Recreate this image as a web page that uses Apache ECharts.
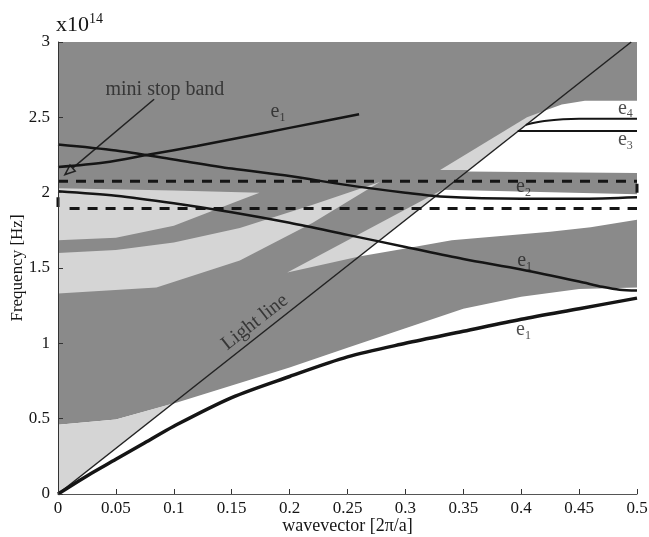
<!DOCTYPE html>
<html>
<head>
<meta charset="UTF-8">
<title>Band diagram</title>
<script src="https://cdn.jsdelivr.net/npm/echarts@6/dist/echarts.min.js"></script>
<style>
  html, body { margin: 0; padding: 0; background: #fff; }
  #chart { width: 649px; height: 537px; }
</style>
</head>
<body>
<div id="chart"></div>
<script>
    // axis ticks
    const xTicks = [0, 0.05, 0.1, 0.15, 0.2, 0.25, 0.3, 0.35, 0.4, 0.45, 0.5];
    const yTicks = [0, 0.5, 1, 1.5, 2, 2.5, 3];

    // bands (x: wavevector, y: frequency / 1e14)
    const lightLine = [[0, 0], [0.495, 3.0]];
    const bandLow = [[0, 0], [0.025, 0.12], [0.05, 0.23], [0.075, 0.34], [0.1, 0.45], [0.15, 0.64], [0.2, 0.78],
        [0.25, 0.91], [0.3, 1.0], [0.35, 1.08], [0.4, 1.16], [0.45, 1.23], [0.5, 1.30]];
    const bandMid = [[0, 2.01], [0.05, 1.98], [0.1, 1.93], [0.15, 1.87], [0.2, 1.80], [0.25, 1.72], [0.3, 1.64],
        [0.35, 1.56], [0.4, 1.49], [0.45, 1.41], [0.47, 1.375], [0.485, 1.355], [0.5, 1.35]];
    const bandE2 = [[0, 2.32], [0.05, 2.28], [0.1, 2.22], [0.15, 2.16], [0.2, 2.11], [0.25, 2.05], [0.3, 2.0],
        [0.33, 1.975], [0.4, 1.96], [0.45, 1.96], [0.5, 1.97]];
    const bandRise = [[0, 2.17], [0.04, 2.2], [0.08, 2.255], [0.12, 2.31], [0.16, 2.37], [0.2, 2.43], [0.26, 2.52]];
    const bandE3 = [[0.397, 2.41], [0.5, 2.41]];
    const bandE4 = [[0.404, 2.45], [0.42, 2.475], [0.45, 2.49], [0.5, 2.49]];
    const dashTop = [[0, 2.075], [0.5, 2.075]];
    const dashBot = [[0.01, 1.895], [0.5, 1.895]];
    const edgeLeft = [[0, 1.905], [0, 1.97]];
    const edgeRight = [[0.5, 2.0], [0.5, 2.06]];

    // shaded regions
    const plotArea = [[0, 0], [0.5, 0], [0.5, 3], [0, 3]];
    const coneEdge = [[0, 0.46], [0.05, 0.495], [0.1, 0.6], [0.15, 0.72], [0.2, 0.84], [0.25, 0.97], [0.3, 1.1],
        [0.35, 1.23], [0.4, 1.31], [0.45, 1.36], [0.5, 1.37]];
    const belowCone = coneEdge.concat([[0.5, 0], [0, 0]]);
    const lightTri = [[0, 0], [0, 0.46], [0.05, 0.495], [0.099, 0.6]];
    const stripeA = [[0, 2.03], [0.1, 2.015], [0.174, 2.0], [0.157, 1.95], [0.1, 1.78], [0.05, 1.70], [0, 1.685]];
    const stripeC = [[0, 1.6], [0.05, 1.62], [0.1, 1.67], [0.157, 1.765], [0.22, 1.92], [0.278, 2.07],
        [0.22, 1.8], [0.157, 1.55], [0.085, 1.37], [0, 1.33]];
    const stripeD = [[0.198, 1.47], [0.26, 1.576], [0.336, 2.036]];
    const sliver = [[0.33, 2.15], [0.405, 2.50], [0.419, 2.54], [0.355, 2.15]];
    const gapTop = [[0.353, 2.14], [0.5, 2.13], [0.5, 2.61], [0.455, 2.61], [0.435, 2.585], [0.419, 2.54]];
    const gapMid = [[0.333, 2.02], [0.5, 1.99], [0.5, 1.82], [0.46, 1.77], [0.425, 1.74], [0.38, 1.71],
        [0.34, 1.685], [0.3, 1.63], [0.26, 1.576]];

    // labels
    const eLabels = [
        { pos: [0.19, 2.535], sub: '1' },
        { pos: [0.49, 2.56], sub: '4' },
        { pos: [0.49, 2.35], sub: '3' },
        { pos: [0.402, 2.04], sub: '2' },
        { pos: [0.403, 1.55], sub: '1' },
        { pos: [0.402, 1.09], sub: '1' }
    ];
    const arrowFrom = [0.083, 2.62];
    const arrowTo = [0.006, 2.12];

    const DARK = '#8a8a8a';
    const LIGHT = '#d5d5d5';
    const INK = '#151515';
    const SERIF = 'Liberation Serif, Times New Roman, serif';

    function poly(points, color) {
        return {
            type: 'custom',
            silent: true,
            data: [[0, 0]],
            renderItem: function (params, api) {
                return {
                    type: 'polygon',
                    shape: { points: points.map(p => api.coord(p)) },
                    style: { fill: color, stroke: null }
                };
            }
        };
    }

    function curve(data, width, extra) {
        return Object.assign({
            type: 'line',
            data: data,
            showSymbol: false,
            silent: true,
            smooth: 0.3,
            lineStyle: { color: INK, width: width }
        }, extra || {});
    }

    const chart = echarts.init(document.getElementById('chart'));
    chart.setOption({
        animation: false,
        grid: { left: 58, right: 12, top: 42, bottom: 43, containLabel: false, outerBoundsMode: 'none' },
        xAxis: {
            type: 'value', min: xTicks[0], max: xTicks[xTicks.length - 1], interval: 0.05, z: 10,
            name: 'wavevector [2π/a]', nameLocation: 'middle', nameGap: 23, nameMoveOverlap: false,
            nameTextStyle: { fontFamily: SERIF, fontSize: 18, color: INK },
            axisLine: { lineStyle: { color: '#555', width: 1 } },
            axisTick: { inside: true, length: 5, lineStyle: { color: '#333' } },
            splitLine: { show: false },
            axisLabel: { fontFamily: SERIF, fontSize: 17, color: INK, margin: 6,
                formatter: v => String(+v.toFixed(2)) }
        },
        yAxis: {
            type: 'value', min: yTicks[0], max: yTicks[yTicks.length - 1], interval: 0.5, z: 10,
            name: 'Frequency [Hz]', nameLocation: 'middle', nameGap: 32, nameRotate: 90, nameMoveOverlap: false,
            nameTextStyle: { fontFamily: SERIF, fontSize: 17, color: INK },
            axisLine: { lineStyle: { color: '#333', width: 1 } },
            axisTick: { inside: true, length: 5, lineStyle: { color: '#333' } },
            splitLine: { show: false },
            axisLabel: { fontFamily: SERIF, fontSize: 17, color: INK, margin: 8 }
        },
        graphic: [{
            type: 'text', left: 56, top: 12,
            style: {
                text: 'x10{s|14}', fontFamily: SERIF, fontSize: 22, fill: INK,
                rich: { s: { fontSize: 14, verticalAlign: 'top', padding: [0, 0, 12, 0], fontFamily: SERIF } }
            }
        }],
        series: [
            poly(plotArea, DARK),
            poly(belowCone, '#ffffff'),
            poly(lightTri, LIGHT),
            poly(stripeA, LIGHT),
            poly(stripeC, LIGHT),
            poly(stripeD, LIGHT),
            poly(sliver, LIGHT),
            poly(gapTop, '#ffffff'),
            poly(gapMid, '#ffffff'),
            curve(lightLine, 1.5, { smooth: false, lineStyle: { color: '#222', width: 1.5 } }),
            curve(bandLow, 3.5),
            curve(bandMid, 2.5),
            curve(bandE2, 2.5),
            curve(bandRise, 2.5),
            curve(bandE3, 2),
            curve(bandE4, 2),
            curve(dashTop, 3, { smooth: false, lineStyle: { color: INK, width: 3, type: [10, 8] } }),
            curve(dashBot, 3, { smooth: false, lineStyle: { color: INK, width: 3, type: [10, 8] } }),
            curve(edgeLeft, 3, { smooth: false }),
            curve(edgeRight, 3, { smooth: false }),
            {
                type: 'custom', silent: true, data: [[0, 0]],
                renderItem: function (params, api) {
                    const a = api.coord(arrowFrom), b = api.coord(arrowTo);
                    const ang = Math.atan2(b[1] - a[1], b[0] - a[0]);
                    const L = 10, W = 4;
                    const bx = b[0] - L * Math.cos(ang), by = b[1] - L * Math.sin(ang);
                    const px = -Math.sin(ang) * W, py = Math.cos(ang) * W;
                    return {
                        type: 'group', children: [
                            { type: 'line', shape: { x1: a[0], y1: a[1], x2: bx, y2: by }, style: { stroke: '#222', lineWidth: 1.5 } },
                            { type: 'polygon', shape: { points: [[b[0], b[1]], [bx + px, by + py], [bx - px, by - py]] },
                              style: { fill: DARK, stroke: '#222', lineWidth: 1.5 } }
                        ]
                    };
                }
            },
            {
                type: 'scatter', silent: true, symbolSize: 0,
                data: eLabels.map(e => ({ value: e.pos, label: { formatter: 'e{s|' + e.sub + '}' } })).concat([
                    { value: [0.041, 2.68], label: { formatter: 'mini stop band', align: 'left' } },
                    { value: [0.170, 1.14], label: { formatter: 'Light line', rotate: 38 } }
                ]),
                label: {
                    show: true, position: 'inside', color: '#222', fontFamily: SERIF, fontSize: 20,
                    rich: { s: { fontSize: 12, fontFamily: SERIF, color: '#222', padding: [12, 0, 0, 0] } }
                }
            }
        ]
    });
</script>
</body>
</html>
